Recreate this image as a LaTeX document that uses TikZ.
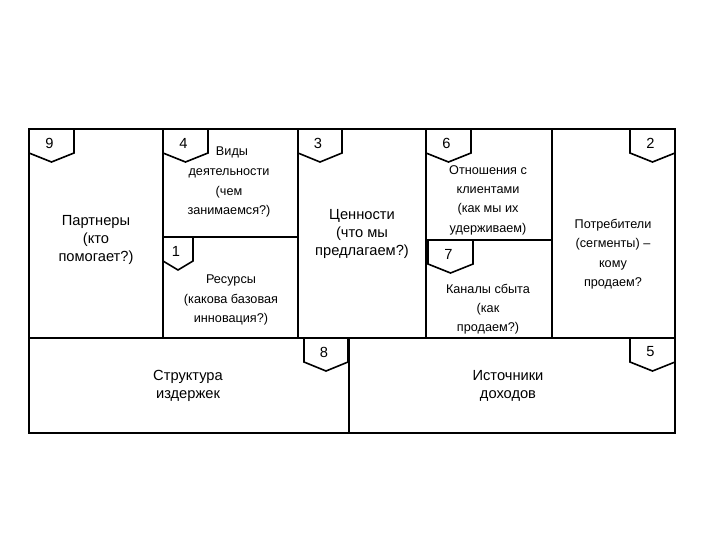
\documentclass[tikz,border=0pt]{standalone}
\usepackage{fontspec}
\setmainfont{Liberation Sans}
\begin{document}
\begin{tikzpicture}[x=0.75pt,y=-0.75pt,
  frame/.style={line width=1.6pt},
  badge/.style={line width=1.2pt},
  big/.style={font=\fontsize{11}{13.5}\selectfont,align=center,inner sep=0},
  small/.style={font=\fontsize{9.5}{14.5}\selectfont,align=center,inner sep=0},
  num/.style={font=\fontsize{11}{13}\selectfont,inner sep=0}]
\useasboundingbox (0,0) rectangle (720,540);
% frame
\draw[frame] (29,129) rectangle (675,433);
\draw[frame] (29,338) -- (675,338);
\draw[frame] (163,129) -- (163,338);
\draw[frame] (298,129) -- (298,338);
\draw[frame] (426,129) -- (426,338);
\draw[frame] (552,129) -- (552,338);
\draw[frame] (349,338) -- (349,433);
\draw[line width=1pt] (163,237) -- (298,237);
\draw[line width=1pt] (426,240) -- (552,240);
% badges
\newcommand{\bdg}[5]{% x1,x2,y0,name,label
  \draw[badge] (#1,#3) -- (#1,#3+24) -- ({(#1+#2)/2},#3+33) -- (#2,#3+24) -- (#2,#3);
  \node[num] (#4) at ({(#1+#2)/2-2},#3+14) {#5};}
\bdg{29}{74}{129}{b9}{9}
\bdg{163}{208}{129}{b4}{4}
\bdg{298}{342}{129}{b3}{3}
\bdg{426}{471}{129}{b6}{6}
\bdg{630}{675}{129}{b2}{2}
\bdg{163}{193}{237}{b1}{1}
\bdg{428}{473}{240}{b7}{7}
\bdg{304}{348}{338}{b8}{8}
\bdg{630}{675}{338}{b5}{5}
% texts
\node[big] (partn) at (96,240) {Партнеры\\(кто\\помогает?)};
\node[small,anchor=north] (act0) at (232,147) {Виды};
\node[small] (act) at (229,193) {деятельности\\(чем\\занимаемся?)};
\node[small] (res) at (231,300) {Ресурсы\\(какова базовая\\инновация?)};
\node[big] (val) at (362,234) {Ценности\\(что мы\\предлагаем?)};
\node[small] (rel) at (488,200) {Отношения с\\клиентами\\(как мы их\\удерживаем)};
\node[small] (chan) at (488,309) {Каналы сбыта\\(как\\продаем?)};
\node[small] (cust) at (613,254) {Потребители\\(сегменты) –\\кому\\продаем?};
\node[big] (cost) at (188,386) {Структура\\издержек};
\node[big] (rev) at (508,386) {Источники\\доходов};
\end{tikzpicture}
\end{document}
